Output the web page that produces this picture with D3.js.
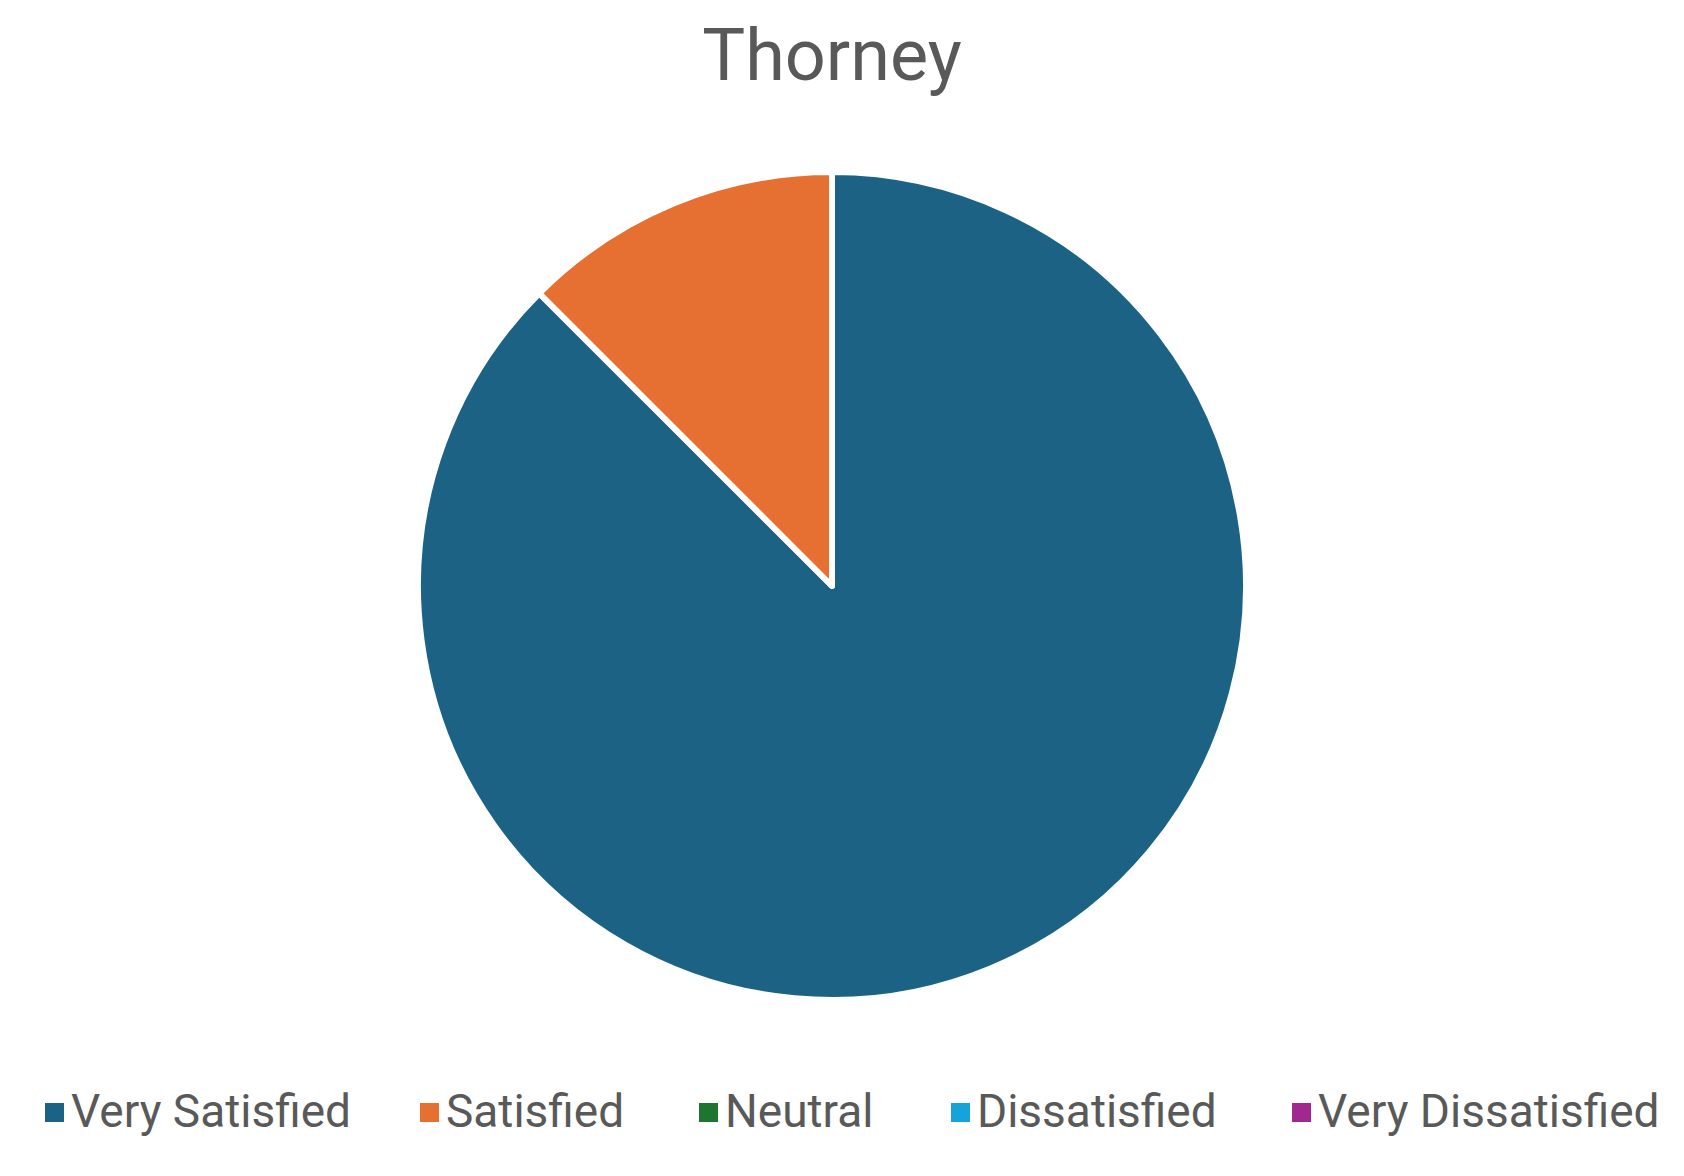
<!DOCTYPE html>
<html><head><meta charset="utf-8">
<script src="https://cdn.jsdelivr.net/npm/d3@7"></script>
<style>body{margin:0;background:#fff}</style></head>
<body><svg id="chart" width="1684" height="1176"></svg>
<script>
const categories = ["Very Satisfied", "Satisfied", "Neutral", "Dissatisfied", "Very Dissatisfied"];
const values = [7, 1, 0, 0, 0];
const colors = ["#1b6285", "#e67031", "#1e7530", "#16a3d9", "#a0298f"];
const legendX = [45, 420, 699, 951, 1292];

const svg = d3.select("#chart");
svg.append("text").attr("x", 832).attr("y", 80).attr("text-anchor", "middle")
  .attr("font-family", "Roboto, sans-serif").attr("font-size", 72).attr("fill", "#595959").text("Thorney");

const pie = d3.pie().sort(null).value(d => d)(values);
const arc = d3.arc().innerRadius(0).outerRadius(414);
const g = svg.append("g").attr("transform", "translate(832,586)");
g.selectAll("path").data(pie.filter(d => d.data > 0)).join("path")
  .attr("d", arc).attr("fill", d => colors[d.index])
  .attr("stroke", "#fff").attr("stroke-width", 6).attr("stroke-linejoin", "round");

const lg = svg.append("g");
categories.forEach((c, i) => {
  lg.append("rect").attr("x", legendX[i]).attr("y", 1103).attr("width", 19).attr("height", 19).attr("fill", colors[i]);
  lg.append("text").attr("x", legendX[i] + 26).attr("y", 1127)
    .attr("font-family", "Roboto, sans-serif").attr("font-size", 46).attr("fill", "#595959").text(c);
});
</script></body></html>
